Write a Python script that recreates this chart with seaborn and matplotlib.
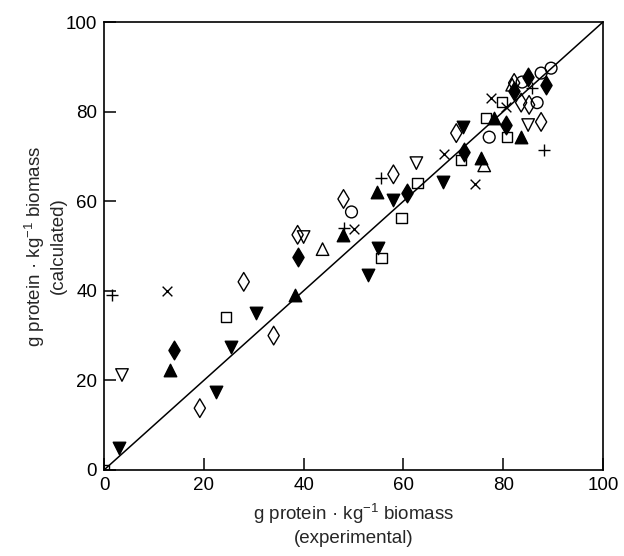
"""
Calculated vs experimental protein content (g protein per kg biomass), 1:1 line.
"""

import matplotlib
matplotlib.use("Agg")
import matplotlib.pyplot as plt
import pandas as pd
import seaborn as sns

# filled down triangles
down_filled_x = [3, 22.5, 25.5, 30.5, 53, 55, 58, 68, 72]
down_filled_y = [5, 17.5, 27.5, 35, 43.5, 49.5, 60.3, 64.3, 76.5]
# filled up triangles
up_filled_x = [13.2, 38.2, 47.8, 54.8, 75.6, 78.2, 83.6]
up_filled_y = [22.3, 39, 52.5, 62, 69.6, 78.5, 74.3]
# filled diamonds
dia_filled_x = [14, 38.8, 60.8, 72.2, 80.6, 82.2, 85, 88.6]
dia_filled_y = [26.8, 47.5, 61.8, 71, 77, 84.5, 87.7, 86]
# open diamonds
dia_open_x = [19.2, 28, 34, 38.8, 48, 58, 70.6, 87.6, 82.2, 83.6, 85.2]
dia_open_y = [13.8, 42, 30, 52.5, 60.5, 66, 75.2, 77.7, 86.4, 82, 81.5]
# open squares
sq_open_x = [0, 24.4, 55.6, 59.6, 62.8, 71.6, 76.6, 79.8, 80.8]
sq_open_y = [0, 34.2, 47.3, 56.2, 64, 69.2, 78.6, 82.1, 74.3]
# open circles
circ_open_x = [49.6, 77.2, 86.8, 89.6, 87.6, 83.8]
circ_open_y = [57.6, 74.3, 82, 89.7, 88.6, 86.6]
# open up triangles
up_open_x = [43.8, 76.2, 81.8]
up_open_y = [49.3, 68, 86]
# open down triangles
down_open_x = [3.6, 40, 62.6, 85]
down_open_y = [21.2, 52, 68.5, 77]
# crosses
cross_x = [12.6, 50.2, 68.2, 74.4, 77.6, 80.6]
cross_y = [40, 53.8, 70.5, 63.8, 83, 81]
# plus signs
plus_x = [1.6, 48, 55.6, 88.2, 85.8]
plus_y = [39, 54, 65.2, 71.4, 85.3]

identity = [0, 100]
ticks = [0, 20, 40, 60, 80, 100]

# (x, y, marker, size, filled)
series = [
    (down_filled_x, down_filled_y, "v", 9, True),
    (up_filled_x, up_filled_y, "^", 9, True),
    (dia_filled_x, dia_filled_y, "d", 9.5, True),
    (dia_open_x, dia_open_y, "d", 9.5, False),
    (sq_open_x, sq_open_y, "s", 7.5, False),
    (circ_open_x, circ_open_y, "o", 8.5, False),
    (up_open_x, up_open_y, "^", 9, False),
    (down_open_x, down_open_y, "v", 9, False),
    (cross_x, cross_y, "x", 7, None),
    (plus_x, plus_y, "+", 9, None),
]

sns.set_style("ticks")
plt.rcParams["font.family"] = ["Liberation Sans", "DejaVu Sans"]

fig = plt.figure(figsize=(6.24, 5.56), dpi=100)
ax = fig.add_axes([0.1667, 0.1547, 0.7996, 0.8057])

ax.plot(identity, identity, color="black", lw=1.1, zorder=1)

for xs, ys, mk, ms, filled in series:
    df = pd.DataFrame({"x": xs, "y": ys})
    if filled is None:
        sns.scatterplot(data=df, x="x", y="y", ax=ax, marker=mk, s=ms ** 2,
                        color="black", linewidth=1.0, zorder=3)
    else:
        sns.scatterplot(data=df, x="x", y="y", ax=ax, marker=mk, s=ms ** 2,
                        facecolor="black" if filled else "none",
                        edgecolor="black", linewidth=1.0, zorder=3)

ax.set_xlim(0, 100)
ax.set_ylim(0, 100)
ax.set_xticks(ticks)
ax.set_yticks(ticks)
ax.tick_params(direction="in", length=8.5, width=1.1, labelsize=13.5, pad=5,
               top=False, right=False, colors="black")
for sp in ax.spines.values():
    sp.set_visible(True)
    sp.set_linewidth(1.2)
    sp.set_color("black")

ax.set_xlabel("g protein · kg$^{\\mathregular{-1}}$ biomass\n(experimental)",
              fontsize=13.5, linespacing=1.3, labelpad=5)
ax.set_ylabel("g protein · kg$^{\\mathregular{-1}}$ biomass\n(calculated)",
              fontsize=13.5, linespacing=1.2, labelpad=-1)

fig.savefig("out.png", dpi=100, facecolor="white")
